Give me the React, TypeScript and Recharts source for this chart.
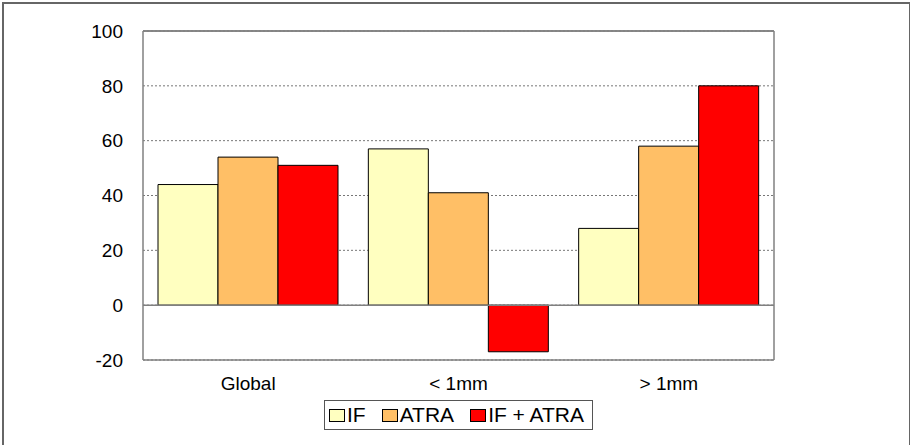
import { BarChart, Bar, XAxis, YAxis, CartesianGrid, Legend, ReferenceLine } from "recharts"

const categories = ["Global", "< 1mm", "> 1mm"]
const ifValues = [44, 57, 28]
const atraValues = [54, 41, 58]
const comboValues = [51, -17, 80]
const yTicks = [-20, 0, 20, 40, 60, 80, 100]

const seriesNames = ["IF", "ATRA", "IF + ATRA"]
const seriesColors = ["#FFFFC0", "#FFBF66", "#FF0000"]

const data = categories.map((name, i) => ({
  name,
  if: ifValues[i],
  atra: atraValues[i],
  combo: comboValues[i],
}))

const font = "'Liberation Sans', Arial, sans-serif"
const axisStroke = { stroke: "#808080", strokeWidth: 1.5 }

function LegendBox() {
  return (
    <div
      style={{
        display: "flex",
        alignItems: "center",
        border: "1px solid #555",
        background: "#fff",
        height: 30,
        width: 269,
        padding: "0 4px",
        fontFamily: font,
        fontSize: 21,
        color: "#000",
        boxSizing: "border-box",
        whiteSpace: "nowrap",
      }}
    >
      {seriesNames.map((n, i) => (
        <div key={n} style={{ display: "flex", alignItems: "center", marginRight: i < 2 ? 16 : 0 }}>
          <span
            style={{
              display: "inline-block",
              width: 14,
              height: 11,
              background: seriesColors[i],
              border: "1px solid #000",
              marginRight: 2,
            }}
          />
          <span>{n}</span>
        </div>
      ))}
    </div>
  )
}

export default function App() {
  return (
    <div style={{ position: "absolute", left: 0, top: 0, width: 910, height: 445, background: "#fff" }}>
      <div
        style={{
          position: "absolute",
          left: 2,
          top: 2,
          width: 905,
          height: 460,
          borderLeft: "2px solid #666",
          borderTop: "2px solid #666",
          borderRight: "2px solid #666",
        }}
      />
      <BarChart
        width={910}
        height={445}
        data={data}
        margin={{ top: 30, right: 135, left: 83, bottom: 55 }}
        barCategoryGap={15}
        barGap={0}
        style={{ position: "absolute", left: 0, top: 0 }}
      >
        <CartesianGrid vertical={false} strokeDasharray="2 2" stroke="#777" />
        <XAxis
          dataKey="name"
          height={30}
          tickLine={false}
          tickMargin={11}
          axisLine={axisStroke}
          tick={{ fill: "#000", fontSize: 19, fontFamily: font }}
        />
        <XAxis
          xAxisId="top"
          dataKey="name"
          orientation="top"
          height={1}
          tick={false}
          tickLine={false}
          axisLine={axisStroke}
        />
        <YAxis
          width={60}
          domain={[-20, 100]}
          ticks={yTicks}
          tickLine={false}
          tickMargin={14}
          axisLine={axisStroke}
          tick={{ fill: "#000", fontSize: 19, fontFamily: font }}
        />
        <YAxis
          yAxisId="right"
          orientation="right"
          width={1}
          domain={[-20, 100]}
          tick={false}
          tickLine={false}
          axisLine={axisStroke}
        />
        <ReferenceLine y={0} stroke="#808080" strokeWidth={1.5} />
        <ReferenceLine y={100} stroke="#808080" strokeWidth={1.5} />
        <Bar dataKey="if" name="IF" fill={seriesColors[0]} stroke="#000" strokeWidth={1} isAnimationActive={false} />
        <Bar dataKey="atra" name="ATRA" fill={seriesColors[1]} stroke="#000" strokeWidth={1} isAnimationActive={false} />
        <Bar dataKey="combo" name="IF + ATRA" fill={seriesColors[2]} stroke="#000" strokeWidth={1} isAnimationActive={false} />
        <Legend
          layout="horizontal"
          verticalAlign="middle"
          align="center"
          content={() => <LegendBox />}
          wrapperStyle={{ left: 324, top: 400, width: 269 }}
        />
      </BarChart>
    </div>
  )
}
